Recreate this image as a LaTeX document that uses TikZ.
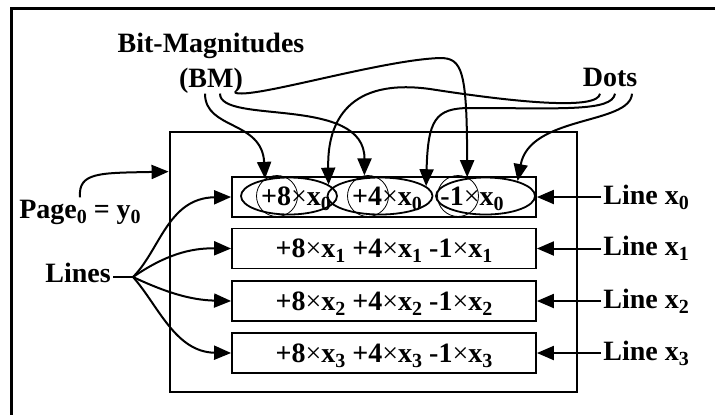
\documentclass[tikz,border=0pt]{standalone}
\usepackage{fontspec}
\setmainfont{Liberation Serif}
\usepackage{tikz}
\usetikzlibrary{shapes.geometric, arrows.meta, calc}

\newcommand{\lowsub}[1]{\raisebox{-0.4ex}{\fontsize{10}{10}\selectfont #1}}
\newcommand{\tms}{{\mdseries ×}}

\begin{document}
\begin{tikzpicture}[x=0.5pt, y=-0.5pt,
    txt/.style={font=\bfseries\fontsize{14}{17.5}\selectfont, inner sep=1pt},
    linebox/.style={draw, line width=0.9pt, minimum width=152pt, minimum height=20pt,
        inner sep=0pt, text depth=0pt, font=\bfseries\fontsize{14}{17}\selectfont},
    term/.style={draw, ellipse, line width=0.9pt, inner sep=0pt, minimum height=18.5pt},
    ring/.style={draw, circle, line width=0.4pt, minimum size=20.5pt, inner sep=0pt},
    termtxt/.style={txt, inner sep=0pt, text depth=0pt},
    conn/.style={-{Triangle[length=8.5pt,width=7pt]}, line width=1pt}]
    \useasboundingbox (0,0) rectangle (715,414);
    \draw[line width=1.5pt] (11,8) rectangle (760,460);
    \node[draw, line width=1.4pt, minimum width=203.5pt, minimum height=130pt, inner sep=0pt] (pagebox) at (373.5,262) {};

    % lines of the page
    \node[linebox] (row0) at (384,197) {};
    \foreach \i/\yy in {1/248.5, 2/301, 3/353}
        \node[linebox] (row\i) at (384,\yy) {+8\tms x\lowsub{\i} +4\tms x\lowsub{\i} -1\tms x\lowsub{\i}};

    % dots of line x0
    \node[term, minimum width=48pt] (e8) at (289,196) {};
    \node[term, minimum width=52.5pt] (e4) at (380,196) {};
    \node[term, minimum width=49.5pt] (e1) at (485.5,196) {};
    \node[ring] (c8) at (277,196) {};
    \node[ring] (c4) at (368,196) {};
    \node[ring] (c1) at (458,196) {};
    \node[termtxt] (t8) at (296,196) {+8\tms x\lowsub{0}};
    \node[termtxt] (t4) at (387,196) {+4\tms x\lowsub{0}};
    \node[termtxt] (t1) at (472,196) {-1\tms x\lowsub{0}};

    % labels
    \node[txt, align=center] (bm) at (211,63) {Bit-Magnitudes\\(BM)};
    \node[txt, anchor=base] (dots) at (610,86) {Dots};
    \node[txt, anchor=base] (pglbl) at (80,218) {Page\lowsub{0} = y\lowsub{0}};
    \node[txt, anchor=base] (lines) at (78,282) {Lines};
    \foreach \i/\yy in {0/197, 1/248.5, 2/301, 3/353}
        \node[txt, anchor=west] (lx\i) at (601,\yy) {Line x\lowsub{\i}};

    % arrows
    \draw[conn] ($(bm.south)+(-6,-2)$) .. controls (205,130) and (262,120) .. (c8.125);
    \draw[conn] ($(bm.south)+(9,-2)$) .. controls (220,125) and (365,95) .. (c4.100);
    \draw[conn] ($(bm.south)+(24,-3)$) .. controls (250,100) and (380,60) .. (440,58)
        .. controls (462,58) and (467,70) .. (c1.64);
    \draw[conn] ($(dots.south)+(-10,5)$) .. controls (598,110) and (520,103) .. (430,89)
        .. controls (350,78) and (327,120) .. (e8.16);
    \draw[conn] ($(dots.south)+(5,5)$) .. controls (612,112) and (560,108) .. (470,108)
        .. controls (435,108) and (428,120) .. (e4.12);
    \draw[conn] ($(dots.south)+(22,5)$) .. controls (630,125) and (530,115) .. (e1.25);
    \draw[conn] (pglbl.north) .. controls (78,172) and (100,173) .. ($(pagebox.north west)+(0,41)$);

    \coordinate (jn) at (133,277);
    \draw[line width=1pt] (lines.east |- jn) -- (jn);
    \draw[conn] (jn) .. controls (160,250) and (168,198) .. (row0.west);
    \draw[conn] (jn) .. controls (165,255) and (190,248) .. (row1.west);
    \draw[conn] (jn) .. controls (165,292) and (190,300) .. (row2.west);
    \draw[conn] (jn) .. controls (158,305) and (175,352) .. (row3.west);
    \foreach \i in {0,...,3}
        \draw[conn] (lx\i.west) -- (row\i.east);
\end{tikzpicture}
\end{document}
